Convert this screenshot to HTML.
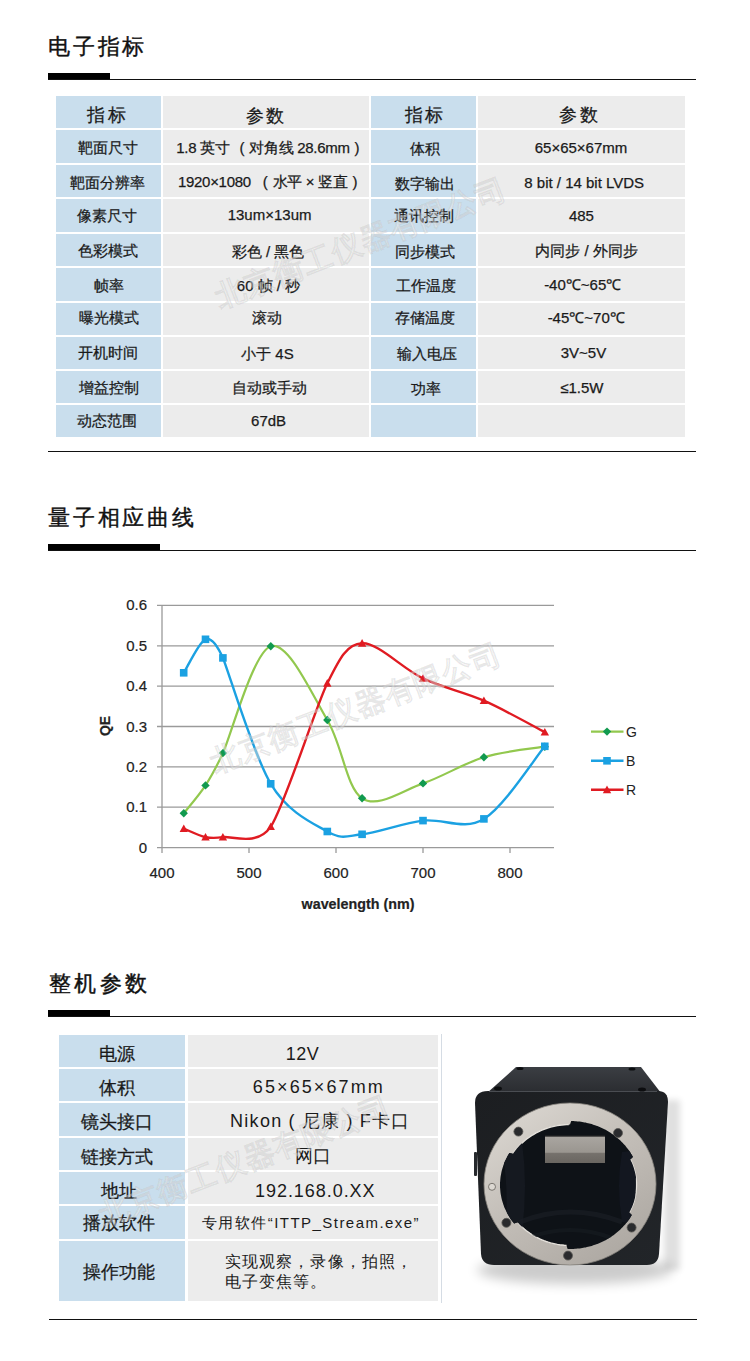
<!DOCTYPE html>
<html><head><meta charset="utf-8"><style>
html,body{margin:0;padding:0;background:#fff}
body{width:750px;height:1361px;position:relative;overflow:hidden;font-family:"Liberation Sans",sans-serif;color:#222}
.title{position:absolute;left:48px;font-size:21.5px;letter-spacing:2.8px;line-height:30px;color:#111;white-space:nowrap;-webkit-text-stroke:0.4px #111}
.bar{position:absolute;left:48px;height:7px;background:#000}
.rule{position:absolute;height:1px;background:#111}
.c,.c3{position:absolute;display:flex;align-items:center;justify-content:center;text-align:center;white-space:nowrap;font-size:15px;color:#1a1a1a;-webkit-text-stroke:0.25px #1a1a1a;box-sizing:border-box;padding-top:3px}
.b{background:#c9deed}
.g{background:#ececec}
.h{font-size:18px;padding-top:5px;letter-spacing:2.2px}
.c3{font-size:18px;padding-top:5px}
.c3.b{padding-right:10px}
.tx{position:absolute;white-space:nowrap;color:#1a1a1a;line-height:22px}
.pp{display:inline-block;padding:0 6px 0 6px}
.v3{letter-spacing:2px}
.sm{font-size:15px;letter-spacing:0.5px}
.ml{text-align:left;line-height:24px;letter-spacing:1px}
.wm{position:absolute;width:400px;height:40px;line-height:40px;text-align:center;font-size:30px;letter-spacing:1px;white-space:nowrap;color:rgba(255,255,255,0.45);font-weight:bold;-webkit-text-stroke:0.7px rgba(0,0,0,0.09);transform:rotate(-21deg)}
</style></head><body>
<div class="title" style="top:32px">电子指标</div>
<div class="bar" style="top:73px;width:62px"></div>
<div class="rule" style="left:48px;top:79px;width:648px"></div>
<div class="c b h" style="left:56px;top:96px;width:105px;height:32px"><span style="position:relative;left:-0.9px;top:0.4px">指标</span></div>
<div class="c g h" style="left:163px;top:96px;width:206px;height:32px"><span style="position:relative;left:0.5px;top:1.0px">参数</span></div>
<div class="c b h" style="left:371px;top:96px;width:105px;height:32px"><span style="position:relative;left:1.6px;top:0.4px">指标</span></div>
<div class="c g h" style="left:478px;top:96px;width:207px;height:32px"><span style="position:relative;left:-1.9px;top:0.4px">参数</span></div>
<div class="c b" style="left:56px;top:130px;width:105px;height:33px"><span style="position:relative;left:-0.1px;top:0.4px">靶面尺寸</span></div>
<div class="c g" style="left:163px;top:130px;width:206px;height:33px"><span style="position:relative;left:1.8px;top:0.1px"><span style="letter-spacing:-0.3px">1.8 英寸<span style="margin-left:10px">(</span><span style="margin-left:5px">对角线</span> 28.6mm<span style="margin-left:5px">)</span></span></span></div>
<div class="c b" style="left:371px;top:130px;width:105px;height:33px"><span style="position:relative;left:1.0px;top:1.3px">体积</span></div>
<div class="c g" style="left:478px;top:130px;width:207px;height:33px"><span style="position:relative;left:-0.5px;top:-0.9px">65×65×67mm</span></div>
<div class="c b" style="left:56px;top:165px;width:105px;height:32px"><span style="position:relative;left:-0.6px;top:1.0px">靶面分辨率</span></div>
<div class="c g" style="left:163px;top:165px;width:206px;height:32px"><span style="position:relative;left:1.6px;top:0.4px"><span style="letter-spacing:-0.3px">1920×1080<span style="margin-left:12px">(</span><span style="margin-left:5px">水平 × 竖直</span><span style="margin-left:5px">)</span></span></span></div>
<div class="c b" style="left:371px;top:165px;width:105px;height:32px"><span style="position:relative;left:1.4px;top:2.1px">数字输出</span></div>
<div class="c g" style="left:478px;top:165px;width:207px;height:32px"><span style="position:relative;left:2.7px;top:0.0px">8 bit / 14 bit LVDS</span></div>
<div class="c b" style="left:56px;top:199px;width:105px;height:33px"><span style="position:relative;left:-1.6px;top:-0.5px">像素尺寸</span></div>
<div class="c g" style="left:163px;top:199px;width:206px;height:33px"><span style="position:relative;left:3.6px;top:-2.2px">13um×13um</span></div>
<div class="c b" style="left:371px;top:199px;width:105px;height:33px"><span style="position:relative;left:0.5px;top:-0.5px">通讯控制</span></div>
<div class="c g" style="left:478px;top:199px;width:207px;height:33px"><span style="position:relative;left:-0.1px;top:-1.6px">485</span></div>
<div class="c b" style="left:56px;top:234px;width:105px;height:32px"><span style="position:relative;left:-0.5px;top:0.2px">色彩模式</span></div>
<div class="c g" style="left:163px;top:234px;width:206px;height:32px"><span style="position:relative;left:2.0px;top:0.9px">彩色 / 黑色</span></div>
<div class="c b" style="left:371px;top:234px;width:105px;height:32px"><span style="position:relative;left:1.2px;top:0.5px">同步模式</span></div>
<div class="c g" style="left:478px;top:234px;width:207px;height:32px"><span style="position:relative;left:5.0px;top:0.2px">内同步 / 外同步</span></div>
<div class="c b" style="left:56px;top:268px;width:105px;height:33px"><span style="position:relative;left:0.4px;top:0.5px">帧率</span></div>
<div class="c g" style="left:163px;top:268px;width:206px;height:33px"><span style="position:relative;left:2.5px;top:0.1px">60 帧 / 秒</span></div>
<div class="c b" style="left:371px;top:268px;width:105px;height:33px"><span style="position:relative;left:2.1px;top:0.0px">工作温度</span></div>
<div class="c g" style="left:478px;top:268px;width:207px;height:33px"><span style="position:relative;left:1.2px;top:-1.7px">-40℃~65℃</span></div>
<div class="c b" style="left:56px;top:303px;width:105px;height:32px"><span style="position:relative;left:0.8px;top:-2.1px">曝光模式</span></div>
<div class="c g" style="left:163px;top:303px;width:206px;height:32px"><span style="position:relative;left:1.3px;top:-2.2px">滚动</span></div>
<div class="c b" style="left:371px;top:303px;width:105px;height:32px"><span style="position:relative;left:1.2px;top:-1.7px">存储温度</span></div>
<div class="c g" style="left:478px;top:303px;width:207px;height:32px"><span style="position:relative;left:4.7px;top:-3.6px">-45℃~70℃</span></div>
<div class="c b" style="left:56px;top:337px;width:105px;height:32px"><span style="position:relative;left:-0.4px;top:-0.8px">开机时间</span></div>
<div class="c g" style="left:163px;top:337px;width:206px;height:32px"><span style="position:relative;left:1.4px;top:-0.1px">小于 4S</span></div>
<div class="c b" style="left:371px;top:337px;width:105px;height:32px"><span style="position:relative;left:3.1px;top:-0.5px">输入电压</span></div>
<div class="c g" style="left:478px;top:337px;width:207px;height:32px"><span style="position:relative;left:2.0px;top:-2.5px">3V~5V</span></div>
<div class="c b" style="left:56px;top:371px;width:105px;height:32px"><span style="position:relative;left:0.2px;top:0.0px">增益控制</span></div>
<div class="c g" style="left:163px;top:371px;width:206px;height:32px"><span style="position:relative;left:3.6px;top:0.1px">自动或手动</span></div>
<div class="c b" style="left:371px;top:371px;width:105px;height:32px"><span style="position:relative;left:2.1px;top:0.8px">功率</span></div>
<div class="c g" style="left:478px;top:371px;width:207px;height:32px"><span style="position:relative;left:0.3px;top:-1.4px">≤1.5W</span></div>
<div class="c b" style="left:56px;top:405px;width:105px;height:32px"><span style="position:relative;left:-1.5px;top:-0.8px">动态范围</span></div>
<div class="c g" style="left:163px;top:405px;width:206px;height:32px"><span style="position:relative;left:2.6px;top:-1.8px">67dB</span></div>
<div class="c b" style="left:371px;top:405px;width:105px;height:32px"><span style="position:relative;left:0.0px;top:0.0px"></span></div>
<div class="c g" style="left:478px;top:405px;width:207px;height:32px"><span style="position:relative;left:0.0px;top:0.0px"></span></div>

<div class="rule" style="left:48px;top:451px;width:648px"></div>
<div class="title" style="top:503px">量子相应曲线</div>
<div class="bar" style="top:544px;width:112px"></div>
<div class="rule" style="left:48px;top:550px;width:648px"></div>
<svg class="chart" width="750" height="1361" viewBox="0 0 750 1361" style="position:absolute;left:0;top:0">
<line x1="157" y1="847.6" x2="554" y2="847.6" stroke="#9a9a9a" stroke-width="1.3"/><line x1="157" y1="807.2" x2="554" y2="807.2" stroke="#9a9a9a" stroke-width="1.3"/><line x1="157" y1="766.9" x2="554" y2="766.9" stroke="#9a9a9a" stroke-width="1.3"/><line x1="157" y1="726.5" x2="554" y2="726.5" stroke="#9a9a9a" stroke-width="1.3"/><line x1="157" y1="686.1" x2="554" y2="686.1" stroke="#9a9a9a" stroke-width="1.3"/><line x1="157" y1="645.8" x2="554" y2="645.8" stroke="#9a9a9a" stroke-width="1.3"/><line x1="157" y1="605.4" x2="554" y2="605.4" stroke="#9a9a9a" stroke-width="1.3"/><line x1="162" y1="605" x2="162" y2="853" stroke="#9a9a9a" stroke-width="1.3"/><line x1="249.0" y1="847.6" x2="249.0" y2="853" stroke="#9a9a9a" stroke-width="1.3"/><line x1="336.0" y1="847.6" x2="336.0" y2="853" stroke="#9a9a9a" stroke-width="1.3"/><line x1="423.0" y1="847.6" x2="423.0" y2="853" stroke="#9a9a9a" stroke-width="1.3"/><line x1="510.0" y1="847.6" x2="510.0" y2="853" stroke="#9a9a9a" stroke-width="1.3"/>
<g font-family="Liberation Sans, sans-serif" font-size="15" fill="#222" stroke="#222" stroke-width="0.2"><text x="147" y="852.6" text-anchor="end">0</text><text x="147" y="812.2" text-anchor="end">0.1</text><text x="147" y="771.9" text-anchor="end">0.2</text><text x="147" y="731.5" text-anchor="end">0.3</text><text x="147" y="691.1" text-anchor="end">0.4</text><text x="147" y="650.8" text-anchor="end">0.5</text><text x="147" y="610.4" text-anchor="end">0.6</text><text x="162.0" y="878" text-anchor="middle">400</text><text x="249.0" y="878" text-anchor="middle">500</text><text x="336.0" y="878" text-anchor="middle">600</text><text x="423.0" y="878" text-anchor="middle">700</text><text x="510.0" y="878" text-anchor="middle">800</text>
<text x="358" y="909" text-anchor="middle" font-weight="bold" font-size="14.3">wavelength (nm)</text>
<text transform="translate(109.5 726) rotate(-90)" text-anchor="middle" font-weight="bold" font-size="14">QE</text>
</g>
<path d="M183.8 813.3 C187.4 808.6 199.0 795.5 205.5 785.4 C212.0 775.4 215.1 769.7 222.9 753.1 C230.7 736.5 253.3 651.7 270.8 646.2 C288.1 640.6 312.1 694.7 327.3 720.0 C342.5 745.4 346.2 787.8 362.1 798.3 C378.1 808.9 402.7 790.3 423.0 783.4 C443.3 776.5 463.6 763.3 483.9 757.2 C504.2 751.0 534.6 748.4 544.8 746.7" fill="none" stroke="#92c84e" stroke-width="2.2"/>
<path d="M183.8 672.8 C187.4 667.2 199.0 641.8 205.5 639.3 C212.0 636.8 217.7 646.3 222.9 657.9 C228.1 669.5 253.3 754.9 270.8 783.8 C288.1 812.7 312.1 823.0 327.3 831.5 C342.5 839.9 346.2 836.1 362.1 834.3 C378.1 832.5 402.7 823.1 423.0 820.6 C443.3 818.0 463.6 831.3 483.9 818.9 C504.2 806.6 534.6 758.4 544.8 746.3" fill="none" stroke="#1ba1e2" stroke-width="2.4"/>
<path d="M183.8 828.6 C187.4 830.0 199.0 835.7 205.5 837.1 C212.0 838.5 214.3 838.5 222.9 837.1 C231.5 835.7 257.0 846.9 270.8 826.6 C284.5 806.3 315.5 707.0 327.3 683.3 C339.1 659.6 346.2 644.1 362.1 643.3 C378.1 642.5 402.7 668.9 423.0 678.4 C443.3 688.0 463.6 691.7 483.9 700.7 C504.2 709.6 534.6 726.9 544.8 732.1" fill="none" stroke="#e01b22" stroke-width="2.4"/>
<path d="M183.8 809.1 L187.9 813.3 L183.8 817.5 L179.6 813.3 Z" fill="#119a4f"/><path d="M205.5 781.2 L209.7 785.4 L205.5 789.6 L201.3 785.4 Z" fill="#119a4f"/><path d="M222.9 748.9 L227.1 753.1 L222.9 757.3 L218.7 753.1 Z" fill="#119a4f"/><path d="M270.8 642.0 L274.9 646.2 L270.8 650.4 L266.6 646.2 Z" fill="#119a4f"/><path d="M327.3 715.8 L331.5 720.0 L327.3 724.2 L323.1 720.0 Z" fill="#119a4f"/><path d="M362.1 794.1 L366.3 798.3 L362.1 802.5 L357.9 798.3 Z" fill="#119a4f"/><path d="M423.0 779.2 L427.2 783.4 L423.0 787.6 L418.8 783.4 Z" fill="#119a4f"/><path d="M483.9 753.0 L488.1 757.2 L483.9 761.4 L479.7 757.2 Z" fill="#119a4f"/><path d="M544.8 742.5 L549.0 746.7 L544.8 750.9 L540.6 746.7 Z" fill="#119a4f"/><rect x="179.9" y="669.0" width="7.6" height="7.6" fill="#1ba1e2"/><rect x="201.7" y="635.5" width="7.6" height="7.6" fill="#1ba1e2"/><rect x="219.1" y="654.1" width="7.6" height="7.6" fill="#1ba1e2"/><rect x="266.9" y="780.0" width="7.6" height="7.6" fill="#1ba1e2"/><rect x="323.5" y="827.7" width="7.6" height="7.6" fill="#1ba1e2"/><rect x="358.3" y="830.5" width="7.6" height="7.6" fill="#1ba1e2"/><rect x="419.2" y="816.8" width="7.6" height="7.6" fill="#1ba1e2"/><rect x="480.1" y="815.1" width="7.6" height="7.6" fill="#1ba1e2"/><rect x="541.0" y="742.5" width="7.6" height="7.6" fill="#1ba1e2"/><path d="M183.8 824.4 L187.9 832.0 L179.6 832.0 Z" fill="#e01b22"/><path d="M205.5 832.9 L209.7 840.5 L201.3 840.5 Z" fill="#e01b22"/><path d="M222.9 832.9 L227.1 840.5 L218.7 840.5 Z" fill="#e01b22"/><path d="M270.8 822.4 L274.9 830.0 L266.6 830.0 Z" fill="#e01b22"/><path d="M327.3 679.1 L331.5 686.7 L323.1 686.7 Z" fill="#e01b22"/><path d="M362.1 639.1 L366.3 646.7 L357.9 646.7 Z" fill="#e01b22"/><path d="M423.0 674.2 L427.2 681.8 L418.8 681.8 Z" fill="#e01b22"/><path d="M483.9 696.5 L488.1 704.0 L479.7 704.0 Z" fill="#e01b22"/><path d="M544.8 727.9 L549.0 735.5 L540.6 735.5 Z" fill="#e01b22"/>
<line x1="591" y1="731.6" x2="623.5" y2="731.6" stroke="#92c84e" stroke-width="2.2"/>
<path d="M607 727.4 L611.2 731.6 L607 735.8 L602.8 731.6Z" fill="#119a4f"/>
<line x1="591" y1="760.8" x2="623.5" y2="760.8" stroke="#1ba1e2" stroke-width="2.4"/>
<rect x="603.2" y="757" width="7.6" height="7.6" fill="#1ba1e2"/>
<line x1="591" y1="789.8" x2="623.5" y2="789.8" stroke="#e01b22" stroke-width="2.4"/>
<path d="M607 785.6 L611.2 793.2 L602.8 793.2Z" fill="#e01b22"/>
<g font-family="Liberation Sans, sans-serif" font-size="14" fill="#222">
<text x="626" y="736.6">G</text><text x="626" y="765.8">B</text><text x="626" y="794.8">R</text></g>
</svg>
<div class="title" style="top:969px;left:49px;letter-spacing:3.3px">整机参数</div>
<div class="bar" style="top:1010px;width:62px"></div>
<div class="rule" style="left:48px;top:1016px;width:648px"></div>
<div class="c3 b" style="left:59px;top:1035px;width:126px;height:32px;">电源</div>
<div class="c3 g" style="left:188px;top:1035px;width:250px;height:32px;"></div>
<div class="c3 b" style="left:59px;top:1069px;width:126px;height:32px;">体积</div>
<div class="c3 g" style="left:188px;top:1069px;width:250px;height:32px;"></div>
<div class="c3 b" style="left:59px;top:1103px;width:126px;height:33px;">镜头接口</div>
<div class="c3 g" style="left:188px;top:1103px;width:250px;height:33px;"></div>
<div class="c3 b" style="left:59px;top:1138px;width:126px;height:32px;">链接方式</div>
<div class="c3 g" style="left:188px;top:1138px;width:250px;height:32px;"></div>
<div class="c3 b" style="left:59px;top:1172px;width:126px;height:32px;padding-right:6px;">地址</div>
<div class="c3 g" style="left:188px;top:1172px;width:250px;height:32px;"></div>
<div class="c3 b" style="left:59px;top:1206px;width:126px;height:33px;padding-right:6px;padding-top:1px;">播放软件</div>
<div class="c3 g" style="left:188px;top:1206px;width:250px;height:33px;"></div>
<div class="c3 b" style="left:59px;top:1241px;width:126px;height:60px;padding-right:6px;padding-top:1px;">操作功能</div>
<div class="c3 g" style="left:188px;top:1241px;width:250px;height:60px;"></div>
<div class="tx" style="left:285.8px;top:1043.3px;font-size:18px;letter-spacing:0.5px">12V</div>
<div class="tx" style="left:252.8px;top:1076.1px;font-size:18px;letter-spacing:2.1px">65×65×67mm</div>
<div class="tx" style="left:230.0px;top:1110.0px;font-size:18px;letter-spacing:1.3px">Nikon<span class="pp">(</span>尼康<span class="pp">)</span>F卡口</div>
<div class="tx" style="left:295.2px;top:1145.4px;font-size:18px;letter-spacing:0px">网口</div>
<div class="tx" style="left:255.0px;top:1179.6px;font-size:18px;letter-spacing:0.95px">192.168.0.XX</div>
<div class="tx" style="left:202.0px;top:1211.6px;font-size:15px;letter-spacing:1.45px">专用软件“ITTP_Stream.exe”</div>
<div class="tx" style="left:225.0px;top:1252.0px;font-size:16px;letter-spacing:1.1px;line-height:20px">实现观察，录像，拍照，<br>电子变焦等。</div>

<div style="position:absolute;left:441px;top:1034px;width:1px;height:269px;background:#d5dce4"></div>
<svg width="750" height="1361" viewBox="0 0 750 1361" style="position:absolute;left:0;top:0">
<defs>
<linearGradient id="topf" x1="0" y1="0" x2="0" y2="1">
<stop offset="0" stop-color="#3b3e43"/><stop offset="1" stop-color="#2a2c30"/>
</linearGradient>
<linearGradient id="front" x1="0" y1="0" x2="1" y2="1">
<stop offset="0" stop-color="#1c1e21"/><stop offset="1" stop-color="#222529"/>
</linearGradient>
<linearGradient id="ring" x1="0.1" y1="0" x2="0.8" y2="1">
<stop offset="0" stop-color="#dcd8d2"/><stop offset="0.5" stop-color="#c2bdb7"/><stop offset="1" stop-color="#aca7a1"/>
</linearGradient>
<linearGradient id="sens" x1="0" y1="0" x2="0" y2="1">
<stop offset="0" stop-color="#aaa6a1"/><stop offset="0.6" stop-color="#9a9690"/><stop offset="0.65" stop-color="#75716c"/><stop offset="1" stop-color="#6a6661"/>
</linearGradient>
<clipPath id="hc"><path d="M636.5 1185.0 L636.5 1186.1 L636.5 1187.1 L636.4 1188.2 L636.3 1189.2 L636.2 1190.3 L636.1 1191.3 L636.0 1192.4 L635.9 1193.4 L635.7 1194.5 L635.5 1195.5 L635.3 1196.5 L635.0 1197.6 L634.8 1198.6 L634.5 1199.6 L634.2 1200.7 L633.9 1201.7 L633.6 1202.7 L633.2 1203.7 L632.9 1204.7 L632.5 1205.7 L632.1 1206.7 L631.7 1207.7 L631.2 1208.6 L630.8 1209.6 L630.3 1210.6 L629.8 1211.5 L629.3 1212.5 L631.8 1215.0 L631.2 1216.0 L630.6 1217.0 L630.0 1218.0 L629.4 1218.9 L628.7 1219.9 L628.0 1220.8 L627.3 1221.7 L626.6 1222.6 L625.9 1223.5 L625.2 1224.4 L624.4 1225.3 L623.6 1226.1 L622.8 1227.0 L622.0 1227.8 L621.2 1228.6 L620.4 1229.5 L619.5 1230.3 L618.6 1231.0 L617.7 1231.8 L616.8 1232.6 L615.9 1233.3 L615.0 1234.0 L614.1 1234.7 L613.1 1235.4 L612.1 1236.1 L611.1 1236.8 L610.2 1237.4 L609.1 1238.1 L608.1 1238.7 L607.1 1239.3 L606.1 1239.9 L605.0 1240.4 L603.9 1241.0 L602.9 1241.5 L601.8 1242.0 L600.7 1242.5 L599.6 1243.0 L598.5 1243.5 L597.4 1243.9 L596.2 1244.3 L595.1 1244.7 L593.9 1245.1 L592.8 1245.5 L591.6 1245.9 L590.5 1246.2 L589.3 1246.5 L588.1 1246.8 L586.9 1247.1 L585.7 1247.4 L584.6 1247.6 L583.4 1247.8 L582.2 1248.0 L581.0 1248.2 L579.7 1248.4 L578.5 1248.5 L577.3 1248.6 L576.1 1248.8 L574.9 1248.8 L573.7 1248.9 L572.4 1249.0 L571.2 1249.0 L570.0 1249.0 L568.8 1249.0 L567.6 1249.0 L566.5 1245.4 L565.4 1245.4 L564.2 1245.3 L563.0 1245.2 L561.9 1245.0 L560.7 1244.9 L559.6 1244.8 L558.5 1244.6 L557.3 1244.4 L556.2 1244.2 L555.0 1243.9 L553.9 1243.7 L552.8 1243.4 L551.7 1243.2 L550.6 1242.9 L549.5 1242.5 L548.3 1242.2 L547.3 1241.9 L546.2 1241.5 L545.1 1241.1 L544.0 1240.7 L543.0 1240.3 L541.9 1239.8 L540.8 1239.4 L539.8 1238.9 L538.8 1238.4 L537.8 1237.9 L536.8 1237.4 L535.7 1236.9 L534.8 1236.3 L533.8 1235.7 L532.8 1235.2 L531.9 1234.6 L530.9 1233.9 L530.0 1233.3 L529.1 1232.7 L528.2 1232.0 L527.3 1231.3 L526.4 1230.7 L525.5 1230.0 L524.6 1229.2 L523.8 1228.5 L523.0 1227.8 L522.2 1227.0 L521.4 1226.3 L520.6 1225.5 L519.8 1224.7 L519.1 1223.9 L518.3 1223.1 L517.6 1222.2 L514.1 1223.5 L513.4 1222.6 L512.7 1221.7 L512.0 1220.8 L511.3 1219.9 L510.6 1218.9 L510.0 1218.0 L509.4 1217.0 L508.8 1216.0 L508.2 1215.0 L507.6 1214.1 L507.1 1213.1 L506.6 1212.0 L506.1 1211.0 L505.6 1210.0 L505.1 1209.0 L504.6 1207.9 L504.2 1206.9 L503.8 1205.8 L503.4 1204.8 L503.1 1203.7 L502.7 1202.6 L502.4 1201.6 L502.1 1200.5 L501.8 1199.4 L501.5 1198.3 L501.3 1197.2 L501.1 1196.1 L500.9 1195.0 L500.7 1193.9 L500.5 1192.8 L500.4 1191.7 L500.3 1190.6 L500.2 1189.5 L500.1 1188.3 L500.0 1187.2 L500.0 1186.1 L500.0 1185.0 L500.0 1183.9 L500.0 1182.8 L500.1 1181.7 L500.2 1180.5 L500.3 1179.4 L500.4 1178.3 L500.5 1177.2 L500.7 1176.1 L500.9 1175.0 L501.1 1173.9 L501.3 1172.8 L501.5 1171.7 L501.8 1170.6 L502.1 1169.5 L502.4 1168.4 L502.7 1167.4 L503.1 1166.3 L503.4 1165.2 L503.8 1164.2 L504.2 1163.1 L504.6 1162.1 L505.1 1161.0 L505.6 1160.0 L506.1 1159.0 L506.6 1158.0 L507.1 1156.9 L507.6 1155.9 L508.2 1155.0 L508.8 1154.0 L509.4 1153.0 L513.0 1153.8 L513.6 1152.9 L514.2 1152.0 L514.9 1151.2 L515.5 1150.3 L516.2 1149.4 L516.9 1148.6 L517.6 1147.8 L518.3 1146.9 L519.1 1146.1 L519.8 1145.3 L520.6 1144.5 L521.4 1143.7 L522.2 1143.0 L523.0 1142.2 L523.8 1141.5 L524.6 1140.8 L525.5 1140.0 L526.4 1139.3 L527.3 1138.7 L528.2 1138.0 L529.1 1137.3 L530.0 1136.7 L530.9 1136.1 L531.9 1135.4 L532.8 1134.8 L533.8 1134.3 L534.8 1133.7 L535.7 1133.1 L536.8 1132.6 L537.8 1132.1 L538.8 1131.6 L539.8 1131.1 L540.8 1130.6 L541.9 1130.2 L543.0 1129.7 L544.0 1129.3 L545.1 1128.9 L546.2 1128.5 L547.3 1128.1 L548.3 1127.8 L549.5 1127.5 L550.6 1127.1 L551.7 1126.8 L552.8 1126.6 L553.9 1126.3 L555.0 1126.1 L556.2 1125.8 L557.3 1125.6 L558.5 1125.4 L559.6 1125.2 L560.7 1125.1 L561.9 1125.0 L563.0 1124.8 L564.2 1124.7 L565.4 1124.6 L566.5 1124.6 L567.7 1124.5 L568.8 1124.5 L570.0 1124.5 L571.2 1121.0 L572.4 1121.0 L573.7 1121.1 L574.9 1121.2 L576.1 1121.2 L577.3 1121.4 L578.5 1121.5 L579.7 1121.6 L581.0 1121.8 L582.2 1122.0 L583.4 1122.2 L584.6 1122.4 L585.7 1122.6 L586.9 1122.9 L588.1 1123.2 L589.3 1123.5 L590.5 1123.8 L591.6 1124.1 L592.8 1124.5 L593.9 1124.9 L595.1 1125.3 L596.2 1125.7 L597.4 1126.1 L598.5 1126.5 L599.6 1127.0 L600.7 1127.5 L601.8 1128.0 L602.9 1128.5 L603.9 1129.0 L605.0 1129.6 L606.1 1130.1 L607.1 1130.7 L608.1 1131.3 L609.1 1131.9 L610.2 1132.6 L611.1 1133.2 L612.1 1133.9 L613.1 1134.6 L614.1 1135.3 L615.0 1136.0 L615.9 1136.7 L616.8 1137.4 L617.7 1138.2 L618.6 1139.0 L619.5 1139.7 L620.4 1140.5 L621.2 1141.4 L622.0 1142.2 L622.8 1143.0 L623.6 1143.9 L624.4 1144.7 L625.2 1145.6 L625.9 1146.5 L626.6 1147.4 L627.3 1148.3 L628.0 1149.2 L628.7 1150.1 L629.4 1151.1 L630.0 1152.0 L630.6 1153.0 L631.2 1154.0 L631.8 1155.0 L632.4 1155.9 L632.9 1156.9 L630.3 1159.4 L630.8 1160.4 L631.2 1161.4 L631.7 1162.3 L632.1 1163.3 L632.5 1164.3 L632.9 1165.3 L633.2 1166.3 L633.6 1167.3 L633.9 1168.3 L634.2 1169.3 L634.5 1170.4 L634.8 1171.4 L635.0 1172.4 L635.3 1173.5 L635.5 1174.5 L635.7 1175.5 L635.9 1176.6 L636.0 1177.6 L636.1 1178.7 L636.2 1179.7 L636.3 1180.8 L636.4 1181.8 L636.5 1182.9 L636.5 1183.9Z"/></clipPath>
<filter id="blur4" x="-50%" y="-50%" width="200%" height="200%"><feGaussianBlur stdDeviation="6"/></filter>
<filter id="blur2" x="-50%" y="-50%" width="200%" height="200%"><feGaussianBlur stdDeviation="3"/></filter>
</defs>
<ellipse cx="575" cy="1270" rx="98" ry="14" fill="#000" opacity="0.2" filter="url(#blur4)"/>
<rect x="664" y="1100" width="16" height="170" fill="#000" opacity="0.12" filter="url(#blur2)"/>
<path d="M516 1067 L641 1067 L661 1093 L487 1093 Z" fill="url(#topf)"/>
<path d="M488 1091 L658 1091 Q668 1091 668 1102 L659 1254 Q658 1265 647 1265 L494 1265 Q482 1265 481 1254 L475 1103 Q475 1091 488 1091 Z" fill="url(#front)"/>
<path d="M489 1091.5 L657 1091.5" stroke="#4a4d52" stroke-width="1"/>
<rect x="474" y="1152" width="3" height="24" rx="1" fill="#26292d"/>
<ellipse cx="520" cy="1068.5" rx="3.5" ry="1.6" fill="#0c0d0f"/>
<ellipse cx="632" cy="1069" rx="3.5" ry="1.6" fill="#0c0d0f"/>
<ellipse cx="498" cy="1088.5" rx="4" ry="2" fill="#0c0d0f"/>
<ellipse cx="642" cy="1089.5" rx="4" ry="2" fill="#0c0d0f"/>
<ellipse cx="570" cy="1184" rx="86" ry="81" fill="url(#ring)" stroke="#8a8680" stroke-width="0.8"/>
<path d="M636.5 1185.0 L636.5 1186.1 L636.5 1187.1 L636.4 1188.2 L636.3 1189.2 L636.2 1190.3 L636.1 1191.3 L636.0 1192.4 L635.9 1193.4 L635.7 1194.5 L635.5 1195.5 L635.3 1196.5 L635.0 1197.6 L634.8 1198.6 L634.5 1199.6 L634.2 1200.7 L633.9 1201.7 L633.6 1202.7 L633.2 1203.7 L632.9 1204.7 L632.5 1205.7 L632.1 1206.7 L631.7 1207.7 L631.2 1208.6 L630.8 1209.6 L630.3 1210.6 L629.8 1211.5 L629.3 1212.5 L631.8 1215.0 L631.2 1216.0 L630.6 1217.0 L630.0 1218.0 L629.4 1218.9 L628.7 1219.9 L628.0 1220.8 L627.3 1221.7 L626.6 1222.6 L625.9 1223.5 L625.2 1224.4 L624.4 1225.3 L623.6 1226.1 L622.8 1227.0 L622.0 1227.8 L621.2 1228.6 L620.4 1229.5 L619.5 1230.3 L618.6 1231.0 L617.7 1231.8 L616.8 1232.6 L615.9 1233.3 L615.0 1234.0 L614.1 1234.7 L613.1 1235.4 L612.1 1236.1 L611.1 1236.8 L610.2 1237.4 L609.1 1238.1 L608.1 1238.7 L607.1 1239.3 L606.1 1239.9 L605.0 1240.4 L603.9 1241.0 L602.9 1241.5 L601.8 1242.0 L600.7 1242.5 L599.6 1243.0 L598.5 1243.5 L597.4 1243.9 L596.2 1244.3 L595.1 1244.7 L593.9 1245.1 L592.8 1245.5 L591.6 1245.9 L590.5 1246.2 L589.3 1246.5 L588.1 1246.8 L586.9 1247.1 L585.7 1247.4 L584.6 1247.6 L583.4 1247.8 L582.2 1248.0 L581.0 1248.2 L579.7 1248.4 L578.5 1248.5 L577.3 1248.6 L576.1 1248.8 L574.9 1248.8 L573.7 1248.9 L572.4 1249.0 L571.2 1249.0 L570.0 1249.0 L568.8 1249.0 L567.6 1249.0 L566.5 1245.4 L565.4 1245.4 L564.2 1245.3 L563.0 1245.2 L561.9 1245.0 L560.7 1244.9 L559.6 1244.8 L558.5 1244.6 L557.3 1244.4 L556.2 1244.2 L555.0 1243.9 L553.9 1243.7 L552.8 1243.4 L551.7 1243.2 L550.6 1242.9 L549.5 1242.5 L548.3 1242.2 L547.3 1241.9 L546.2 1241.5 L545.1 1241.1 L544.0 1240.7 L543.0 1240.3 L541.9 1239.8 L540.8 1239.4 L539.8 1238.9 L538.8 1238.4 L537.8 1237.9 L536.8 1237.4 L535.7 1236.9 L534.8 1236.3 L533.8 1235.7 L532.8 1235.2 L531.9 1234.6 L530.9 1233.9 L530.0 1233.3 L529.1 1232.7 L528.2 1232.0 L527.3 1231.3 L526.4 1230.7 L525.5 1230.0 L524.6 1229.2 L523.8 1228.5 L523.0 1227.8 L522.2 1227.0 L521.4 1226.3 L520.6 1225.5 L519.8 1224.7 L519.1 1223.9 L518.3 1223.1 L517.6 1222.2 L514.1 1223.5 L513.4 1222.6 L512.7 1221.7 L512.0 1220.8 L511.3 1219.9 L510.6 1218.9 L510.0 1218.0 L509.4 1217.0 L508.8 1216.0 L508.2 1215.0 L507.6 1214.1 L507.1 1213.1 L506.6 1212.0 L506.1 1211.0 L505.6 1210.0 L505.1 1209.0 L504.6 1207.9 L504.2 1206.9 L503.8 1205.8 L503.4 1204.8 L503.1 1203.7 L502.7 1202.6 L502.4 1201.6 L502.1 1200.5 L501.8 1199.4 L501.5 1198.3 L501.3 1197.2 L501.1 1196.1 L500.9 1195.0 L500.7 1193.9 L500.5 1192.8 L500.4 1191.7 L500.3 1190.6 L500.2 1189.5 L500.1 1188.3 L500.0 1187.2 L500.0 1186.1 L500.0 1185.0 L500.0 1183.9 L500.0 1182.8 L500.1 1181.7 L500.2 1180.5 L500.3 1179.4 L500.4 1178.3 L500.5 1177.2 L500.7 1176.1 L500.9 1175.0 L501.1 1173.9 L501.3 1172.8 L501.5 1171.7 L501.8 1170.6 L502.1 1169.5 L502.4 1168.4 L502.7 1167.4 L503.1 1166.3 L503.4 1165.2 L503.8 1164.2 L504.2 1163.1 L504.6 1162.1 L505.1 1161.0 L505.6 1160.0 L506.1 1159.0 L506.6 1158.0 L507.1 1156.9 L507.6 1155.9 L508.2 1155.0 L508.8 1154.0 L509.4 1153.0 L513.0 1153.8 L513.6 1152.9 L514.2 1152.0 L514.9 1151.2 L515.5 1150.3 L516.2 1149.4 L516.9 1148.6 L517.6 1147.8 L518.3 1146.9 L519.1 1146.1 L519.8 1145.3 L520.6 1144.5 L521.4 1143.7 L522.2 1143.0 L523.0 1142.2 L523.8 1141.5 L524.6 1140.8 L525.5 1140.0 L526.4 1139.3 L527.3 1138.7 L528.2 1138.0 L529.1 1137.3 L530.0 1136.7 L530.9 1136.1 L531.9 1135.4 L532.8 1134.8 L533.8 1134.3 L534.8 1133.7 L535.7 1133.1 L536.8 1132.6 L537.8 1132.1 L538.8 1131.6 L539.8 1131.1 L540.8 1130.6 L541.9 1130.2 L543.0 1129.7 L544.0 1129.3 L545.1 1128.9 L546.2 1128.5 L547.3 1128.1 L548.3 1127.8 L549.5 1127.5 L550.6 1127.1 L551.7 1126.8 L552.8 1126.6 L553.9 1126.3 L555.0 1126.1 L556.2 1125.8 L557.3 1125.6 L558.5 1125.4 L559.6 1125.2 L560.7 1125.1 L561.9 1125.0 L563.0 1124.8 L564.2 1124.7 L565.4 1124.6 L566.5 1124.6 L567.7 1124.5 L568.8 1124.5 L570.0 1124.5 L571.2 1121.0 L572.4 1121.0 L573.7 1121.1 L574.9 1121.2 L576.1 1121.2 L577.3 1121.4 L578.5 1121.5 L579.7 1121.6 L581.0 1121.8 L582.2 1122.0 L583.4 1122.2 L584.6 1122.4 L585.7 1122.6 L586.9 1122.9 L588.1 1123.2 L589.3 1123.5 L590.5 1123.8 L591.6 1124.1 L592.8 1124.5 L593.9 1124.9 L595.1 1125.3 L596.2 1125.7 L597.4 1126.1 L598.5 1126.5 L599.6 1127.0 L600.7 1127.5 L601.8 1128.0 L602.9 1128.5 L603.9 1129.0 L605.0 1129.6 L606.1 1130.1 L607.1 1130.7 L608.1 1131.3 L609.1 1131.9 L610.2 1132.6 L611.1 1133.2 L612.1 1133.9 L613.1 1134.6 L614.1 1135.3 L615.0 1136.0 L615.9 1136.7 L616.8 1137.4 L617.7 1138.2 L618.6 1139.0 L619.5 1139.7 L620.4 1140.5 L621.2 1141.4 L622.0 1142.2 L622.8 1143.0 L623.6 1143.9 L624.4 1144.7 L625.2 1145.6 L625.9 1146.5 L626.6 1147.4 L627.3 1148.3 L628.0 1149.2 L628.7 1150.1 L629.4 1151.1 L630.0 1152.0 L630.6 1153.0 L631.2 1154.0 L631.8 1155.0 L632.4 1155.9 L632.9 1156.9 L630.3 1159.4 L630.8 1160.4 L631.2 1161.4 L631.7 1162.3 L632.1 1163.3 L632.5 1164.3 L632.9 1165.3 L633.2 1166.3 L633.6 1167.3 L633.9 1168.3 L634.2 1169.3 L634.5 1170.4 L634.8 1171.4 L635.0 1172.4 L635.3 1173.5 L635.5 1174.5 L635.7 1175.5 L635.9 1176.6 L636.0 1177.6 L636.1 1178.7 L636.2 1179.7 L636.3 1180.8 L636.4 1181.8 L636.5 1182.9 L636.5 1183.9Z" fill="#0e1217"/>
<path d="M513.0 1153.8 L514.2 1152.0 L515.5 1150.3 L516.9 1148.6 L518.3 1146.9 L519.8 1145.3 L521.4 1143.7 L523.0 1142.2 L524.6 1140.8 L526.4 1139.3 L528.2 1138.0 L530.0 1136.7 L531.9 1135.4 L533.8 1134.3 L535.7 1133.1 L537.8 1132.1 L539.8 1131.1 L541.9 1130.2 L544.0 1129.3 L546.2 1128.5 L548.3 1127.8 L550.6 1127.1 L552.8 1126.6 L555.0 1126.1 L557.3 1125.6 L559.6 1125.2 L561.9 1125.0 L564.2 1124.7 L566.5 1124.6 L568.8 1124.5" fill="none" stroke="#e6e2dc" stroke-width="1.4"/><path d="M566.5 1245.4 L564.2 1245.3 L561.9 1245.0 L559.6 1244.8 L557.3 1244.4 L555.0 1243.9 L552.8 1243.4 L550.6 1242.9 L548.3 1242.2 L546.2 1241.5 L544.0 1240.7 L541.9 1239.8 L539.8 1238.9 L537.8 1237.9 L535.7 1236.9 L533.8 1235.7 L531.9 1234.6 L530.0 1233.3 L528.2 1232.0 L526.4 1230.7 L524.6 1229.2 L523.0 1227.8 L521.4 1226.3 L519.8 1224.7 L518.3 1223.1" fill="none" stroke="#e6e2dc" stroke-width="1.4"/><path d="M630.3 1159.4 L631.2 1161.4 L632.1 1163.3 L632.9 1165.3 L633.6 1167.3 L634.2 1169.3 L634.8 1171.4 L635.3 1173.5 L635.7 1175.5 L636.0 1177.6 L636.2 1179.7 L636.4 1181.8 L636.5 1183.9 L636.5 1186.1 L636.4 1188.2 L636.2 1190.3 L636.0 1192.4 L635.7 1194.5 L635.3 1196.5 L634.8 1198.6 L634.2 1200.7 L633.6 1202.7 L632.9 1204.7 L632.1 1206.7 L631.2 1208.6 L630.3 1210.6 L629.3 1212.5" fill="none" stroke="#e6e2dc" stroke-width="1.4"/>
<g clip-path="url(#hc)">
<path d="M500 1140 Q510 1185 505 1235 L522 1232 Q528 1185 522 1142 Z" fill="#151920"/>
<path d="M640 1150 Q632 1185 638 1225 L622 1222 Q616 1185 622 1152 Z" fill="#131720"/>
<rect x="545" y="1136" width="60" height="27" fill="url(#sens)"/>
<rect x="545" y="1135.5" width="60" height="1.2" fill="#2a2a2a"/>
<path d="M520 1222 Q570 1202 622 1222" fill="none" stroke="#1a1e25" stroke-width="5" opacity="0.7"/>
<path d="M528 1238 Q570 1222 612 1238" fill="none" stroke="#181c22" stroke-width="4" opacity="0.6"/>
</g>
<circle cx="518.4" cy="1131.6" r="4.5" fill="#2a2b2e" stroke="#5a5955" stroke-width="0.8"/>
<circle cx="618" cy="1133" r="4.5" fill="#2a2b2e" stroke="#5a5955" stroke-width="0.8"/>
<circle cx="506.4" cy="1222.8" r="4.5" fill="#2a2b2e" stroke="#5a5955" stroke-width="0.8"/>
<circle cx="631.6" cy="1227.6" r="4.5" fill="#2a2b2e" stroke="#5a5955" stroke-width="0.8"/>
<circle cx="568" cy="1255.6" r="4.5" fill="#2a2b2e" stroke="#5a5955" stroke-width="0.8"/>
<circle cx="492" cy="1186.8" r="3.5" fill="#dcd8d2" stroke="#7a7670" stroke-width="1"/>
</svg>
<div class="rule" style="left:49px;top:1319px;width:648px"></div>
<div class="wm" style="left:161px;top:223px">北京衡工仪器有限公司</div>
<div class="wm" style="left:156px;top:688px">北京衡工仪器有限公司</div>
<div class="wm" style="left:45px;top:1141px">北京衡工仪器有限公司</div>
</body></html>
